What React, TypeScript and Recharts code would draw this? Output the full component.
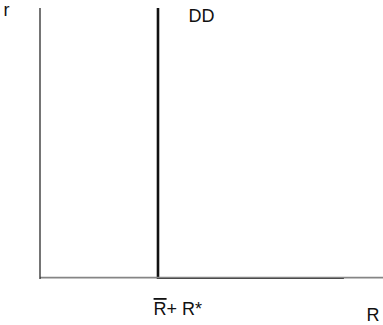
import { LineChart, Line, XAxis, YAxis, LabelList } from "recharts"

// DD schedule: vertical at R̄ + R*, then flat along the R axis
const ddR = [3.44, 3.44, 8.86]
const ddRate = [10, 0, 0]
const floorTicks = [3.44]
const curveName = "DD"
const xTitle = "R"
const yTitle = "r"

const data = ddR.map((R, i) => ({ R, r: ddRate[i] }))

const font = "'Liberation Sans', Arial, sans-serif"
const ink = "#111"

const FloorTick = ({ x, y }: any) => (
  <text x={x - 4.4} y={y + 36} fontFamily={font} fontSize={18} fill={ink}>
    <tspan style={{ textDecoration: "overline" }}>R</tspan>
    <tspan>+ R*</tspan>
  </text>
)

const YTitle = ({ viewBox }: any) => (
  <text x={viewBox.x + 3.6} y={viewBox.y + 8} fontFamily={font} fontSize={18} fill={ink}>
    {yTitle}
  </text>
)

const XTitle = ({ viewBox }: any) => (
  <text x={viewBox.x + viewBox.width - 16.4} y={viewBox.y + 42} fontFamily={font} fontSize={18} fill={ink}>
    {xTitle}
  </text>
)

const CurveLabel = (props: any) => {
  if (props.index !== 0) return null
  return (
    <text x={props.x + 30.6} y={props.y + 14} fontFamily={font} fontSize={18} fill={ink}>
      {curveName}
    </text>
  )
}

export default function App() {
  return (
    <div style={{ position: "absolute", left: 0, top: 0, background: "#fff" }}>
      <LineChart width={383} height={325} data={data} margin={{ top: 8, right: 0, bottom: 0, left: 0 }}>
        <XAxis
          dataKey="R"
          type="number"
          domain={[0, 10]}
          ticks={floorTicks}
          allowDataOverflow
          tickLine={false}
          tickSize={0}
          tickMargin={0}
          height={46}
          axisLine={{ stroke: "#858585", strokeWidth: 1.8, transform: "translate(0,-1.4)" }}
          tick={<FloorTick />}
          label={<XTitle />}
        />
        <YAxis
          type="number"
          domain={[0, 10]}
          allowDataOverflow
          width={40}
          tick={false}
          tickLine={false}
          axisLine={{ stroke: "#2a2a2a", strokeWidth: 1.3 }}
          label={<YTitle />}
        />
        <Line
          type="linear"
          dataKey="r"
          stroke="#111"
          strokeWidth={2.6}
          dot={false}
          isAnimationActive={false}
        >
          <LabelList dataKey="r" content={<CurveLabel />} />
        </Line>
      </LineChart>
    </div>
  )
}
